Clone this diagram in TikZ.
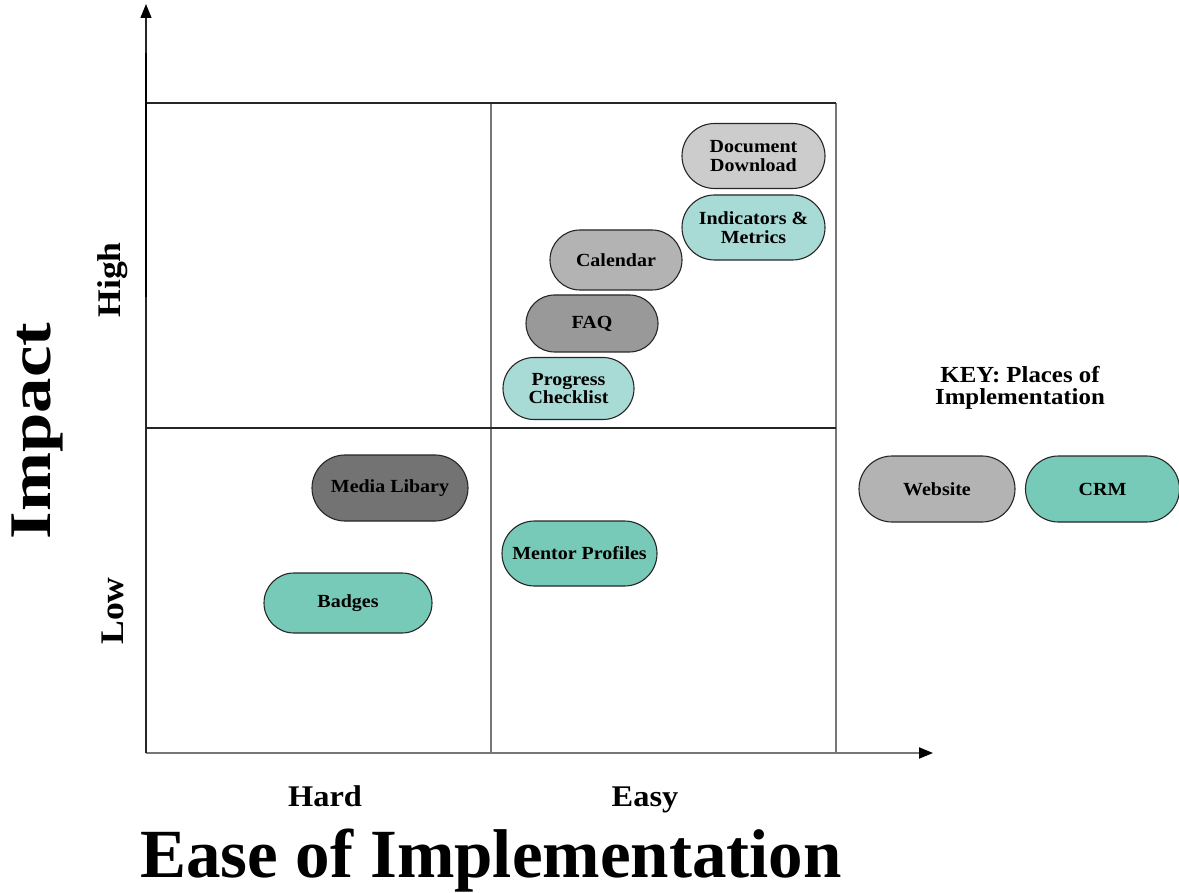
\documentclass[tikz,border=0pt]{standalone}
\usepackage{fontspec}
\setmainfont{Liberation Serif}
\newfontfamily\wfont[FakeStretch=1.08]{Liberation Serif}
\newfontfamily\xfont[FakeStretch=1.2]{Liberation Serif}
\usetikzlibrary{shapes.misc,arrows.meta}
\definecolor{cDoc}{HTML}{CCCCCC}
\definecolor{cTealL}{HTML}{A8DAD6}
\definecolor{cGrayM}{HTML}{B3B3B3}
\definecolor{cFaq}{HTML}{999999}
\definecolor{cMedia}{HTML}{737373}
\definecolor{cTeal}{HTML}{78CAB8}
\definecolor{cLine}{HTML}{777777}
\tikzset{
  pill/.style={rounded rectangle, draw=black!85, line width=1.1pt, align=center,
    inner sep=0pt, font=\wfont\fontsize{18.5}{18.5}\selectfont\bfseries},
  axislbl/.style={font=\wfont\fontsize{30}{31}\selectfont\bfseries, inner sep=0pt},
  vlbl/.style={font=\wfont\fontsize{33}{34}\selectfont\bfseries, inner sep=0pt, rotate=90},
  bigttl/.style={font=\fontsize{69}{70}\selectfont\bfseries, inner sep=0pt},
  gridln/.style={draw=cLine, line width=1.3pt},
  tip/.style={-{Triangle[length=14pt,width=11pt,black]}}
}
\begin{document}
\begin{tikzpicture}[x=1pt,y=-1pt]
\useasboundingbox (0,0) rectangle (1179,893);
% axes and grid
\coordinate (o) at (146,753);
\coordinate (ytop) at (146,4);
\coordinate (xend) at (933,753);
\coordinate (tl) at (146,103);
\coordinate (tr) at (836,103);
\coordinate (br) at (836,753);
\coordinate (mt) at (491,103);
\coordinate (mb) at (491,753);
\coordinate (ml) at (146,428);
\coordinate (mr) at (836,428);
\draw[gridln] (tr) -- (br);
\draw[gridln] (mt) -- (mb);
\draw[black!85, line width=1.1pt] (ml) -- (mr);
\draw[black!85, line width=1.8pt] (tl) -- (tr);
\draw[cLine, line width=2pt, tip] (o) -- (xend);
\draw[black!85, line width=1.3pt, tip] (o) -- (ytop);
\coordinate (ta) at (146,53);
\coordinate (tb) at (146,297);
\draw[black, line width=2.6pt] (ta) -- (tb);
% items
\node[pill, fill=cDoc, minimum width=143pt, minimum height=65pt] (doc) at (753.5,156) {Document\\Download};
\node[pill, fill=cTealL, minimum width=143pt, minimum height=65pt] (ind) at (753.5,227.5) {Indicators \&\\Metrics};
\node[pill, fill=cGrayM, minimum width=132pt, minimum height=60pt] (cal) at (616,260) {Calendar};
\node[pill, fill=cFaq, minimum width=132pt, minimum height=57pt] (faq) at (592,323.5) {FAQ};
\node[pill, fill=cTealL, minimum width=131pt, minimum height=62pt] (prog) at (568.5,388.5) {Progress\\Checklist};
\node[pill, fill=cMedia, minimum width=156pt, minimum height=66pt] (media) at (390,488) {Media Libary};
\node[pill, fill=cTeal, minimum width=168pt, minimum height=60pt] (badges) at (348,603) {Badges};
\node[pill, fill=cTeal, minimum width=155pt, minimum height=65pt] (mentor) at (579.5,553.5) {Mentor Profiles};
\node[pill, fill=cGrayM, minimum width=156pt, minimum height=66pt] (web) at (937,489) {Website};
\node[pill, fill=cTeal, minimum width=154pt, minimum height=66pt] (crm) at (1102.5,489) {CRM};
% key title
\node[align=center, inner sep=0pt, font=\wfont\fontsize{23}{22.5}\selectfont\bfseries] (key) at (1020,388) {KEY: Places of\\Implementation};
% axis labels
\node[vlbl] (high) at (113,280) {High};
\node[vlbl] (low) at (113,611) {Low};
\node[axislbl, anchor=base] (hard) at (325,806) {Hard};
\node[axislbl, anchor=base] (easy) at (645,806) {Easy};
\node[font=\xfont\fontsize{59}{60}\selectfont\bfseries, inner sep=0pt, rotate=90, anchor=base] (impact) at (50,431) {Impact};
\node[bigttl, anchor=base] (ease) at (491,877) {Ease of Implementation};
\end{tikzpicture}
\end{document}
